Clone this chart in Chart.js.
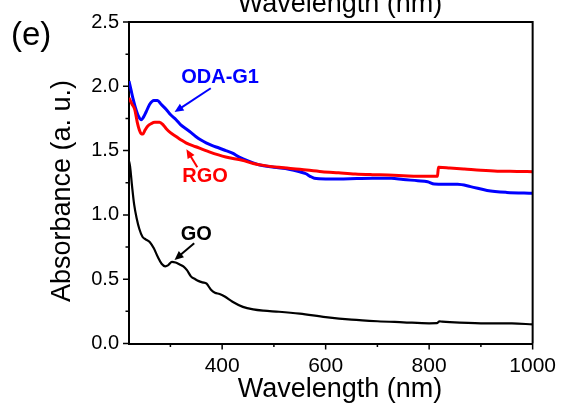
<!DOCTYPE html>
<html>
<head>
<meta charset="utf-8">
<script src="https://cdn.jsdelivr.net/npm/chart.js@4"></script>
<style>
  body { margin: 0; background: #fff; }
  canvas { display: block; }
</style>
</head>
<body>
<canvas id="uvChart" width="566" height="408"></canvas>
<script>
// UV-vis absorbance spectra
const goWavelength = [220, 222, 226, 230, 235, 240, 246, 252, 260, 268, 276, 283, 290, 296, 303, 310, 318, 325, 332, 340, 348, 355, 362, 370, 378, 386, 395, 405, 420, 440, 460, 480, 510, 550, 600, 650, 700, 750, 800, 815, 820, 825, 840, 900, 960, 1000];
const goAbsorbance = [1.42, 1.38, 1.22, 1.08, 0.97, 0.89, 0.83, 0.81, 0.79, 0.74, 0.67, 0.62, 0.60, 0.61, 0.635, 0.63, 0.615, 0.60, 0.57, 0.52, 0.50, 0.485, 0.475, 0.465, 0.42, 0.395, 0.385, 0.365, 0.325, 0.285, 0.265, 0.255, 0.247, 0.232, 0.205, 0.185, 0.173, 0.165, 0.157, 0.158, 0.172, 0.17, 0.166, 0.157, 0.156, 0.149];

const odaWavelength = [220, 224, 228, 232, 238, 244, 248, 253, 260, 268, 275, 282, 292, 300, 311, 320, 330, 340, 349, 360, 369, 380, 394, 407, 420, 433, 450, 471, 500, 529, 550, 562, 570, 578, 600, 625, 660, 690, 727, 750, 778, 797, 810, 830, 855, 880, 912, 950, 1000];
const odaAbsorbance = [2.04, 1.97, 1.90, 1.84, 1.77, 1.74, 1.76, 1.80, 1.86, 1.89, 1.89, 1.86, 1.82, 1.78, 1.74, 1.70, 1.67, 1.64, 1.61, 1.58, 1.56, 1.54, 1.52, 1.50, 1.48, 1.45, 1.42, 1.39, 1.37, 1.355, 1.335, 1.32, 1.30, 1.285, 1.28, 1.28, 1.283, 1.285, 1.285, 1.275, 1.266, 1.258, 1.24, 1.238, 1.238, 1.22, 1.19, 1.175, 1.168];

const rgoWavelength = [220, 226, 231, 236, 240, 244, 247, 251, 256, 263, 270, 279, 286, 292, 300, 311, 320, 330, 349, 375, 407, 439, 460, 480, 510, 550, 593, 625, 657, 690, 721, 750, 778, 800, 816, 818, 840, 868, 900, 932, 970, 1000];
const rgoAbsorbance = [1.91, 1.86, 1.82, 1.72, 1.66, 1.63, 1.63, 1.66, 1.69, 1.71, 1.72, 1.72, 1.70, 1.67, 1.64, 1.61, 1.585, 1.56, 1.53, 1.49, 1.45, 1.425, 1.40, 1.385, 1.37, 1.355, 1.336, 1.327, 1.318, 1.313, 1.31, 1.305, 1.30, 1.30, 1.30, 1.37, 1.365, 1.357, 1.347, 1.34, 1.338, 1.336];

const xMajorTicks = [400, 600, 800, 1000];
const xMinorTicks = [300, 500, 700, 900];
const yMajorTicks = [0, 0.5, 1.0, 1.5, 2.0, 2.5];
const yMinorTicks = [0.25, 0.75, 1.25, 1.75, 2.25];

// text labels with arrows, in data units: [label, textX, textY, fromX, fromY, tipX, tipY, colour]
const labels = [
  ['ODA-G1', 396, 2.07, 378, 1.985, 308, 1.80, '#0000ff'],
  ['RGO', 367, 1.30, 352, 1.37, 331, 1.51, '#ff0000'],
  ['GO', 350, 0.85, 346, 0.78, 308, 0.65, '#000000']
];

const FONT = "'Liberation Sans', Arial, sans-serif";

const toPoints = (xs, ys) => xs.map((x, i) => ({ x: x, y: ys[i] }));

// draws frame, tick marks, axis titles and annotations
const decorPlugin = {
  id: 'decor',
  beforeDraw(chart) {
    const ctx = chart.ctx;
    ctx.save();
    ctx.fillStyle = '#fff';
    ctx.fillRect(0, 0, chart.width, chart.height);
    ctx.restore();
  },
  afterDraw(chart) {
    const ctx = chart.ctx;
    const area = chart.chartArea;
    const xs = chart.scales.x;
    const ys = chart.scales.y;
    ctx.save();

    // top and right frame
    ctx.strokeStyle = '#000';
    ctx.lineWidth = 2;
    ctx.beginPath();
    ctx.moveTo(area.left, area.top);
    ctx.lineTo(area.right, area.top);
    ctx.lineTo(area.right, area.bottom);
    ctx.stroke();

    // tick marks (outward)
    ctx.lineWidth = 1.5;
    ctx.beginPath();
    xMajorTicks.forEach(v => { const p = xs.getPixelForValue(v); ctx.moveTo(p, area.bottom); ctx.lineTo(p, area.bottom + 6); });
    xMinorTicks.forEach(v => { const p = xs.getPixelForValue(v); ctx.moveTo(p, area.bottom); ctx.lineTo(p, area.bottom + 3.5); });
    yMajorTicks.forEach(v => { const p = ys.getPixelForValue(v); ctx.moveTo(area.left, p); ctx.lineTo(area.left - 6, p); });
    yMinorTicks.forEach(v => { const p = ys.getPixelForValue(v); ctx.moveTo(area.left, p); ctx.lineTo(area.left - 3.5, p); });
    ctx.stroke();

    // axis titles
    ctx.fillStyle = '#000';
    ctx.font = '27px ' + FONT;
    ctx.textAlign = 'center';
    ctx.textBaseline = 'alphabetic';
    ctx.fillText('Wavelength (nm)', 340, 397);
    // clipped title of the panel above
    ctx.fillText('Wavelength (nm)', 340, 12);

    ctx.save();
    ctx.translate(70, 191);
    ctx.rotate(-Math.PI / 2);
    ctx.fillText('Absorbance (a. u.)', 0, 0);
    ctx.restore();

    ctx.font = '33px ' + FONT;
    ctx.textAlign = 'left';
    ctx.fillText('(e)', 11, 45);

    // annotations
    labels.forEach(([text, tx, ty, fx, fy, px, py, colour]) => {
      ctx.fillStyle = colour;
      ctx.strokeStyle = colour;
      ctx.font = 'bold 20px ' + FONT;
      ctx.textAlign = 'center';
      ctx.textBaseline = 'middle';
      ctx.fillText(text, xs.getPixelForValue(tx), ys.getPixelForValue(ty));

      const x1 = xs.getPixelForValue(fx), y1 = ys.getPixelForValue(fy);
      const x2 = xs.getPixelForValue(px), y2 = ys.getPixelForValue(py);
      const ang = Math.atan2(y2 - y1, x2 - x1);
      const head = 9;
      ctx.lineWidth = 2;
      ctx.beginPath();
      ctx.moveTo(x1, y1);
      ctx.lineTo(x2 - Math.cos(ang) * head * 0.8, y2 - Math.sin(ang) * head * 0.8);
      ctx.stroke();
      ctx.beginPath();
      ctx.moveTo(x2, y2);
      ctx.lineTo(x2 - head * Math.cos(ang) + 4 * Math.sin(ang), y2 - head * Math.sin(ang) - 4 * Math.cos(ang));
      ctx.lineTo(x2 - head * Math.cos(ang) - 4 * Math.sin(ang), y2 - head * Math.sin(ang) + 4 * Math.cos(ang));
      ctx.closePath();
      ctx.fill();
    });

    ctx.restore();
  }
};

const ctx = document.getElementById('uvChart');
new Chart(ctx, {
  type: 'line',
  data: {
    datasets: [
      { label: 'RGO', data: toPoints(rgoWavelength, rgoAbsorbance), borderColor: '#ff0000', borderWidth: 3 },
      { label: 'ODA-G1', data: toPoints(odaWavelength, odaAbsorbance), borderColor: '#0000ff', borderWidth: 3 },
      { label: 'GO', data: toPoints(goWavelength, goAbsorbance), borderColor: '#000000', borderWidth: 2.2 }
    ]
  },
  options: {
    responsive: false,
    animation: false,
    parsing: false,
    layout: { padding: { left: 0, top: 22, right: 30, bottom: 0 } },
    elements: {
      point: { radius: 0 },
      line: { cubicInterpolationMode: 'monotone', fill: false }
    },
    plugins: {
      legend: { display: false },
      tooltip: { enabled: false }
    },
    scales: {
      x: {
        type: 'linear',
        min: 220,
        max: 1000,
        afterBuildTicks: scale => { scale.ticks = xMajorTicks.map(v => ({ value: v })); },
        afterFit: scale => { scale.height = 64.5; },
        grid: { display: false, drawTicks: false },
        border: { display: true, color: '#000', width: 2 },
        ticks: {
          autoSkip: false,
          maxRotation: 0,
          padding: 10,
          color: '#000',
          font: { family: FONT, size: 21 },
          callback: v => String(v)
        }
      },
      y: {
        min: 0,
        max: 2.5,
        afterBuildTicks: scale => { scale.ticks = yMajorTicks.map(v => ({ value: v })); },
        afterFit: scale => { scale.width = 129; },
        grid: { display: false, drawTicks: false },
        border: { display: true, color: '#000', width: 2 },
        ticks: {
          padding: 10,
          color: '#000',
          font: { family: FONT, size: 20 },
          callback: v => Number(v).toFixed(1)
        }
      }
    }
  },
  plugins: [decorPlugin]
});
</script>
</body>
</html>
